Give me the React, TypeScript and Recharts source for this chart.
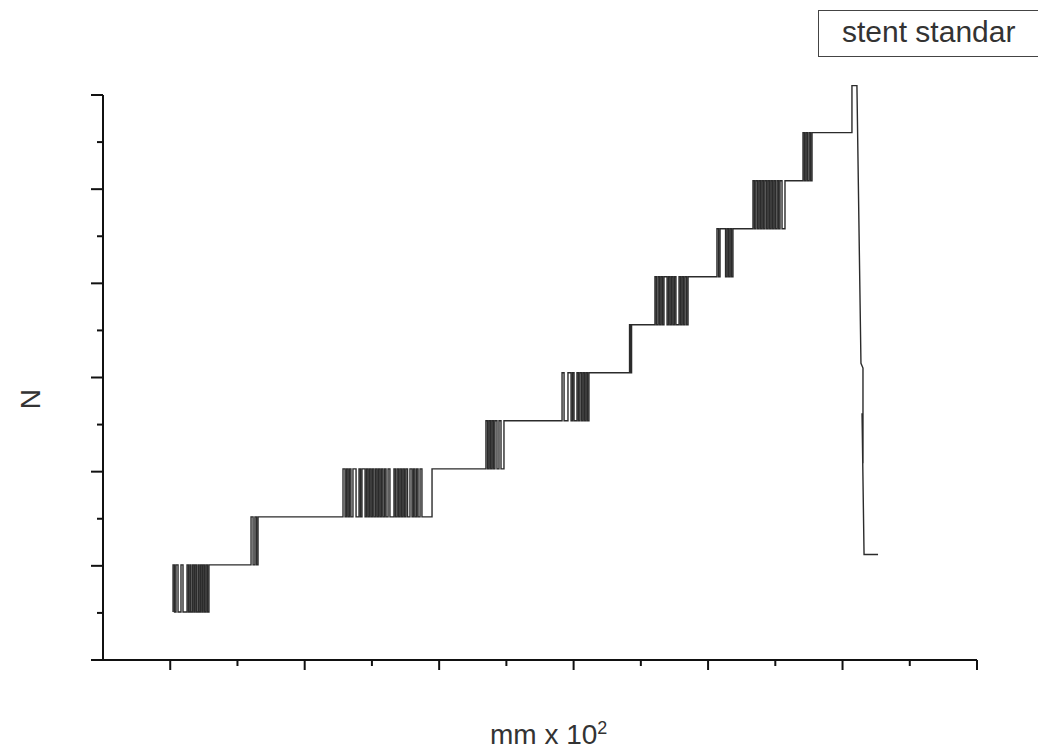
import { Line, LineChart, ReferenceLine, XAxis, YAxis } from "recharts";

const seriesName = "stent standar";
const xLabel = "mm x 10";
const xLabelPow = "2";
const yLabel = "N";

const xTicks = [10, 15, 20, 25, 30, 35, 40, 45, 50, 55, 60, 65, 70];
const yTicks = [0, 0.5, 1, 1.5, 2, 2.5, 3, 3.5, 4, 4.5, 5, 5.5, 6];

// plateau levels, bottom to top
const stepLevels = [0.51, 1.01, 1.52, 2.03, 2.54, 3.05, 3.56, 4.07, 4.58, 5.09, 5.6];

// x of every noisy vertical stroke in each jump between two plateaus
const jump1 = [10.21, 10.32, 10.43, 10.58, 10.8, 10.95, 11.25, 11.36, 11.47, 11.54, 11.66, 11.77, 11.84, 11.95, 12.07, 12.14, 12.25, 12.36, 12.44, 12.55, 12.66, 12.77, 12.88];
const jump2 = [16.01, 16.16, 16.3, 16.42, 16.53];
const jump3 = [22.85, 23.0, 23.11, 23.22, 23.33, 23.44, 23.59, 23.82, 24.04, 24.15, 24.26, 24.49, 24.6, 24.71, 24.82, 24.93, 25.04, 25.15, 25.27, 25.38, 25.49, 25.6, 25.71, 25.82, 25.94, 26.05, 26.2, 26.34, 26.64, 26.75, 26.87, 26.98, 27.09, 27.2, 27.31, 27.42, 27.53, 27.65, 27.83, 27.98, 28.09, 28.2, 28.32, 28.43, 28.58, 28.72, 29.47];
const jump4 = [33.48, 33.6, 33.71, 33.82, 33.93, 34.04, 34.15, 34.3, 34.45, 34.6, 34.82];
const jump5 = [39.14, 39.29, 39.58, 39.81, 39.92, 40.03, 40.25, 40.36, 40.47, 40.59, 40.7, 40.81, 40.92, 41.03, 41.14];
const jump6 = [44.16, 44.23, 44.31];
const jump7 = [46.05, 46.16, 46.28, 46.39, 46.5, 46.61, 46.72, 46.95, 47.06, 47.17, 47.28, 47.39, 47.5, 47.61, 47.84, 47.95, 48.06, 48.17, 48.28, 48.4, 48.51];
const jump8 = [50.66, 50.78, 50.89, 51.3, 51.41, 51.52, 51.63, 51.74, 51.85];
const jump9 = [53.34, 53.45, 53.56, 53.68, 53.79, 53.9, 54.01, 54.12, 54.23, 54.35, 54.46, 54.57, 54.68, 54.79, 54.9, 55.01, 55.13, 55.24, 55.35, 55.5, 55.72];
const jump10 = [57.06, 57.17, 57.28, 57.39, 57.51, 57.62, 57.73];
const jumps = [jump1, jump2, jump3, jump4, jump5, jump6, jump7, jump8, jump9, jump10];

// peak and break at the end
const spikeX = [60.7, 61.07];
const spikeTop = 6.1;
const dropX = [61.37, 61.52, 61.52, 61.45, 61.6, 62.64];
const dropY = [3.15, 3.1, 2.09, 2.62, 1.12, 1.12];

const points: { x: number; y: number }[] = [];
jumps.forEach((strokes, i) => {
  const lo = stepLevels[i];
  const hi = stepLevels[i + 1];
  strokes.forEach((x, j) => {
    if (j % 2 === 0) points.push({ x, y: lo }, { x, y: hi });
    else points.push({ x, y: hi }, { x, y: lo });
  });
});
points.push(
  { x: spikeX[0], y: stepLevels[stepLevels.length - 1] },
  { x: spikeX[0], y: spikeTop },
  { x: spikeX[1], y: spikeTop }
);
dropX.forEach((x, i) => points.push({ x, y: dropY[i] }));

const font = '"Liberation Sans", Arial, sans-serif';

const XTick = (props: any) => {
  const { x, y, payload } = props;
  const len = payload.value % 10 === 0 ? 10 : 6;
  return <line x1={x} x2={x} y1={y} y2={y + len} stroke="#111" strokeWidth={2} />;
};

const YTick = (props: any) => {
  const { x, y, payload } = props;
  const len = Number.isInteger(payload.value) ? 12 : 6;
  return <line x1={x - len} x2={x} y1={y} y2={y} stroke="#111" strokeWidth={2} />;
};

export default function App() {
  return (
    <div
      style={{
        position: "absolute",
        left: 0,
        top: 0,
        width: 1038,
        height: 754,
        overflow: "hidden",
        background: "#fff",
        fontFamily: font,
        color: "#333",
      }}
    >
      <LineChart
        width={1038}
        height={754}
        data={points}
        margin={{ top: 83.7, right: 61, bottom: 74, left: 83 }}
      >
        <XAxis
          type="number"
          dataKey="x"
          domain={[5, 70]}
          ticks={xTicks}
          height={20}
          tickSize={0}
          tickMargin={0}
          tickLine={false}
          tick={<XTick />}
          axisLine={{ stroke: "#111", strokeWidth: 2 }}
        />
        <YAxis
          type="number"
          domain={[0, 6.12]}
          ticks={yTicks}
          width={20}
          tickSize={0}
          tickMargin={0}
          tickLine={false}
          tick={<YTick />}
          axisLine={false}
        />
        <ReferenceLine
          segment={[
            { x: 5, y: 0 },
            { x: 5, y: 6 },
          ]}
          stroke="#111"
          strokeWidth={2}
        />
        <Line
          type="linear"
          dataKey="y"
          name={seriesName}
          stroke="#2b2b2b"
          strokeWidth={1.4}
          dot={false}
          isAnimationActive={false}
        />
      </LineChart>

      <div
        style={{
          position: "absolute",
          left: 11,
          top: 379,
          width: 40,
          height: 40,
          display: "flex",
          alignItems: "center",
          justifyContent: "center",
          fontSize: 28,
          transform: "rotate(-90deg)",
        }}
      >
        {yLabel}
      </div>

      <div
        style={{
          position: "absolute",
          left: 490,
          top: 721,
          fontSize: 28,
          lineHeight: "28px",
          whiteSpace: "nowrap",
        }}
      >
        {xLabel}
        <sup style={{ fontSize: 18, lineHeight: 0 }}>{xLabelPow}</sup>
      </div>

      <div
        style={{
          position: "absolute",
          left: 818,
          top: 10,
          width: 240,
          height: 47,
          border: "1.5px solid #444",
          boxSizing: "border-box",
        }}
      >
        <span
          style={{
            position: "absolute",
            left: 23,
            top: 6,
            fontSize: 30,
            lineHeight: "30px",
            whiteSpace: "nowrap",
          }}
        >
          {seriesName}
        </span>
      </div>
    </div>
  );
}
